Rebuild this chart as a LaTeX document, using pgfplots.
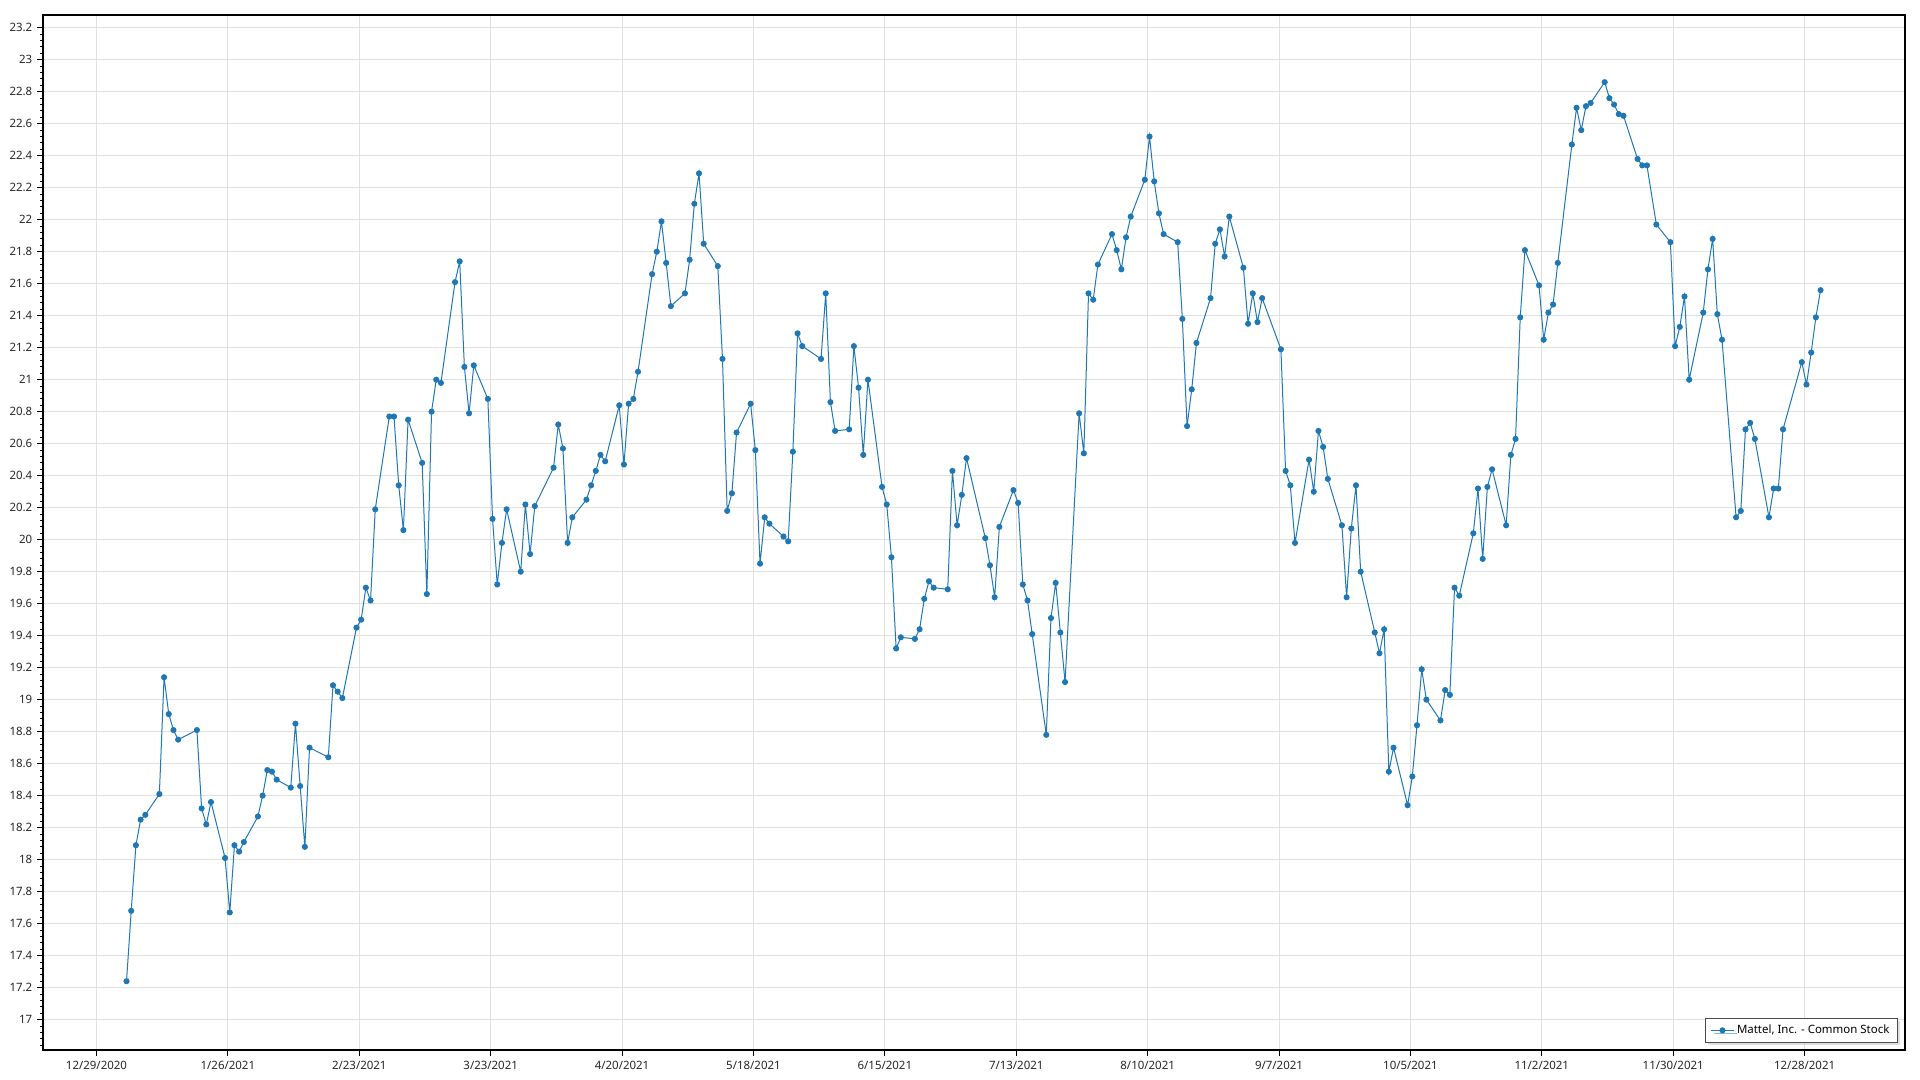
\documentclass[border=0pt]{standalone}
\usepackage{pgfplots}
\pgfplotsset{compat=1.18}
\usepackage{pgfplotstable}
\usepackage{fontspec}
\setmainfont{Noto Sans}
\usetikzlibrary{shadows}

\definecolor{matblue}{RGB}{31,119,180}
\definecolor{gridgray}{RGB}{224,224,224}
\newcommand\chartfont{\fontsize{8.6pt}{10pt}\selectfont}

% day = days since 12/29/2020, close = closing price
\pgfplotstableread{
day close
6 17.24
7 17.68
8 18.09
9 18.25
10 18.28
13 18.41
14 19.14
15 18.91
16 18.81
17 18.75
21 18.81
22 18.32
23 18.22
24 18.36
27 18.01
28 17.67
29 18.09
30 18.05
31 18.11
34 18.27
35 18.40
36 18.56
37 18.55
38 18.50
41 18.45
42 18.85
43 18.46
44 18.08
45 18.70
49 18.64
50 19.09
51 19.05
52 19.01
55 19.45
56 19.50
57 19.70
58 19.62
59 20.19
62 20.77
63 20.77
64 20.34
65 20.06
66 20.75
69 20.48
70 19.66
71 20.80
72 21.00
73 20.98
76 21.61
77 21.74
78 21.08
79 20.79
80 21.09
83 20.88
84 20.13
85 19.72
86 19.98
87 20.19
90 19.80
91 20.22
92 19.91
93 20.21
97 20.45
98 20.72
99 20.57
100 19.98
101 20.14
104 20.25
105 20.34
106 20.43
107 20.53
108 20.49
111 20.84
112 20.47
113 20.85
114 20.88
115 21.05
118 21.66
119 21.80
120 21.99
121 21.73
122 21.46
125 21.54
126 21.75
127 22.10
128 22.29
129 21.85
132 21.71
133 21.13
134 20.18
135 20.29
136 20.67
139 20.85
140 20.56
141 19.85
142 20.14
143 20.10
146 20.02
147 19.99
148 20.55
149 21.29
150 21.21
154 21.13
155 21.54
156 20.86
157 20.68
160 20.69
161 21.21
162 20.95
163 20.53
164 21.00
167 20.33
168 20.22
169 19.89
170 19.32
171 19.39
174 19.38
175 19.44
176 19.63
177 19.74
178 19.70
181 19.69
182 20.43
183 20.09
184 20.28
185 20.51
189 20.01
190 19.84
191 19.64
192 20.08
195 20.31
196 20.23
197 19.72
198 19.62
199 19.41
202 18.78
203 19.51
204 19.73
205 19.42
206 19.11
209 20.79
210 20.54
211 21.54
212 21.50
213 21.72
216 21.91
217 21.81
218 21.69
219 21.89
220 22.02
223 22.25
224 22.52
225 22.24
226 22.04
227 21.91
230 21.86
231 21.38
232 20.71
233 20.94
234 21.23
237 21.51
238 21.85
239 21.94
240 21.77
241 22.02
244 21.70
245 21.35
246 21.54
247 21.36
248 21.51
252 21.19
253 20.43
254 20.34
255 19.98
258 20.50
259 20.30
260 20.68
261 20.58
262 20.38
265 20.09
266 19.64
267 20.07
268 20.34
269 19.80
272 19.42
273 19.29
274 19.44
275 18.55
276 18.70
279 18.34
280 18.52
281 18.84
282 19.19
283 19.00
286 18.87
287 19.06
288 19.03
289 19.70
290 19.65
293 20.04
294 20.32
295 19.88
296 20.33
297 20.44
300 20.09
301 20.53
302 20.63
303 21.39
304 21.81
307 21.59
308 21.25
309 21.42
310 21.47
311 21.73
314 22.47
315 22.70
316 22.56
317 22.71
318 22.73
321 22.86
322 22.76
323 22.72
324 22.66
325 22.65
328 22.38
329 22.34
330 22.34
332 21.97
335 21.86
336 21.21
337 21.33
338 21.52
339 21.00
342 21.42
343 21.69
344 21.88
345 21.41
346 21.25
349 20.14
350 20.18
351 20.69
352 20.73
353 20.63
356 20.14
357 20.32
358 20.32
359 20.69
363 21.11
364 20.97
365 21.17
366 21.39
367 21.56
}\mattel

\begin{document}
\begin{tikzpicture}
\path[use as bounding box] (-32.25pt,-22.5pt) rectangle (1407.75pt,787.5pt);
\begin{axis}[
  scale only axis,
  width=1396.5pt, height=776.25pt,
  xmin=-11.4, xmax=385.4,
  ymin=16.81, ymax=23.28,
  xtick={0,28,...,364},
  xticklabels={12/29/2020,1/26/2021,2/23/2021,3/23/2021,4/20/2021,5/18/2021,6/15/2021,7/13/2021,8/10/2021,9/7/2021,10/5/2021,11/2/2021,11/30/2021,12/28/2021},
  ytick distance=0.2,
  minor y tick num=4,
  yticklabel style={/pgf/number format/fixed,/pgf/number format/precision=2},
  /pgf/number format/assume math mode=true,
  ticklabel style={font=\chartfont, text=black!85},
  tick align=outside, tick pos=left,
  major tick length=4.5pt, minor tick length=2.25pt,
  tick style={black, line width=0.75pt},
  grid=major,
  major grid style={gridgray, line width=0.75pt},
  axis line style={black, line width=1pt},
  legend style={at={(1,0)}, anchor=south east, xshift=-5.25pt, yshift=5.25pt,
    draw=black!70, line width=0.9pt, fill=white, font=\chartfont,
    drop shadow={shadow xshift=2pt, shadow yshift=-2pt, fill=black!25},
    inner xsep=4pt, inner ysep=3pt},
  legend cell align=left,
]
% points sit a little right of the date ticks in the original
\addplot[matblue, line width=0.75pt, mark=*, mark size=1.9pt]
  table[x expr=\thisrow{day}+0.4, y=close]{\mattel};
\addlegendentry{Mattel, Inc. - Common Stock}
\end{axis}
\end{tikzpicture}
\end{document}
